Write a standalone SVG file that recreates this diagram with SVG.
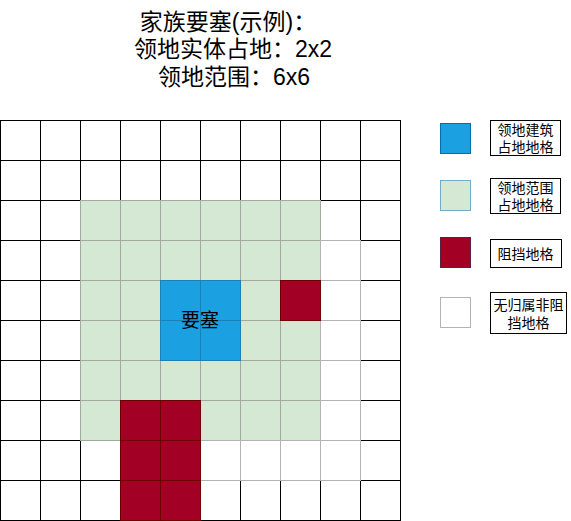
<svg xmlns="http://www.w3.org/2000/svg" width="571" height="521" viewBox="0 0 571 521">
<style>
text{font-family:"Liberation Sans","Noto Sans CJK SC",sans-serif;fill:#000}
.t{font-size:23px;text-anchor:middle}
.l{font-size:14px;text-anchor:middle}
.b{fill:#fff;stroke:#000;stroke-width:1}
.g{fill:#d5e8d4;stroke:#a0aa9f;stroke-width:1}
.w{fill:#fff;stroke:#b3b3b3;stroke-width:1}
.r{fill:#a20025;stroke:#6f0000;stroke-width:1}
.u{fill:#1ba1e2;stroke:#1a80b8;stroke-width:1}
.box{fill:#fff;stroke:#000;stroke-width:1}
</style>
<defs>
<rect id="c" width="40" height="40"/>
<g id="row">
<use href="#c" x="0"/><use href="#c" x="40"/><use href="#c" x="80"/><use href="#c" x="120"/><use href="#c" x="160"/><use href="#c" x="200"/><use href="#c" x="240"/><use href="#c" x="280"/><use href="#c" x="320"/><use href="#c" x="360"/>
</g>
<g id="row6">
<use href="#c" x="0"/><use href="#c" x="40"/><use href="#c" x="80"/><use href="#c" x="120"/><use href="#c" x="160"/><use href="#c" x="200"/>
</g>
</defs>
<g id="title">
<text class="t" x="228" y="30">家族要塞(示例)：</text>
<text class="t" x="233" y="57">领地实体占地：2x2</text>
<text class="t" x="234" y="85">领地范围：6x6</text>
</g>
<g id="grid" transform="translate(0.5,0.5)">
<g id="base" class="b">
<use href="#row" y="120"/><use href="#row" y="160"/><use href="#row" y="200"/><use href="#row" y="240"/><use href="#row" y="280"/><use href="#row" y="320"/><use href="#row" y="360"/><use href="#row" y="400"/><use href="#row" y="440"/><use href="#row" y="480"/>
</g>
<g id="range" class="g">
<use href="#row6" x="80" y="200"/><use href="#row6" x="80" y="240"/><use href="#row6" x="80" y="280"/><use href="#row6" x="80" y="320"/><use href="#row6" x="80" y="360"/><use href="#row6" x="80" y="400"/>
</g>
<g id="free" class="w">
<rect x="320" y="240" width="40" height="40"/>
<rect x="320" y="280" width="40" height="40"/>
<rect x="320" y="320" width="40" height="40"/>
<rect x="320" y="360" width="40" height="40"/>
<rect x="320" y="400" width="40" height="40"/>
<rect x="320" y="440" width="40" height="40"/>
<rect x="200" y="440" width="40" height="40"/>
<rect x="240" y="440" width="40" height="40"/>
<rect x="280" y="440" width="40" height="40"/>
</g>
<g id="block" class="r">
<rect x="280" y="280" width="40" height="40"/>
<rect x="120" y="400" width="40" height="40"/>
<rect x="160" y="400" width="40" height="40"/>
<rect x="120" y="440" width="40" height="40"/>
<rect x="160" y="440" width="40" height="40"/>
<rect x="120" y="480" width="40" height="40"/>
<rect x="160" y="480" width="40" height="40"/>
</g>
<g id="fortress">
<g class="u">
<rect x="160" y="280" width="40" height="40"/>
<rect x="200" y="280" width="40" height="40"/>
<rect x="160" y="320" width="40" height="40"/>
<rect x="200" y="320" width="40" height="40"/>
</g>
<text x="199.5" y="326.5" style="font-size:19px;text-anchor:middle">要塞</text>
</g>
</g>
<g id="legend" transform="translate(0.5,0.5)">
<g id="lg1">
<rect x="440" y="123" width="30" height="30" fill="#1ba1e2" stroke="#006eaf"/>
<rect class="box" x="490" y="120" width="70" height="35"/>
<text class="l" x="525" y="134">领地建筑</text>
<text class="l" x="525" y="151">占地地格</text>
</g>
<g id="lg2">
<rect x="440" y="180" width="30" height="30" fill="#d5e8d4" stroke="#6eaecb"/>
<rect class="box" x="490" y="178" width="70" height="35"/>
<text class="l" x="525" y="192">领地范围</text>
<text class="l" x="525" y="209">占地地格</text>
</g>
<g id="lg3">
<rect x="440" y="237" width="30" height="30" fill="#a20025" stroke="#5a2048"/>
<rect class="box" x="490" y="239" width="71" height="28"/>
<text class="l" x="525" y="258">阻挡地格</text>
</g>
<g id="lg4">
<rect x="440" y="297" width="30" height="30" fill="#fff" stroke="#b3b3b3"/>
<rect class="box" x="490" y="292" width="76" height="41"/>
<text class="l" x="528" y="309">无归属非阻</text>
<text class="l" x="528" y="327">挡地格</text>
</g>
</g>
</svg>
